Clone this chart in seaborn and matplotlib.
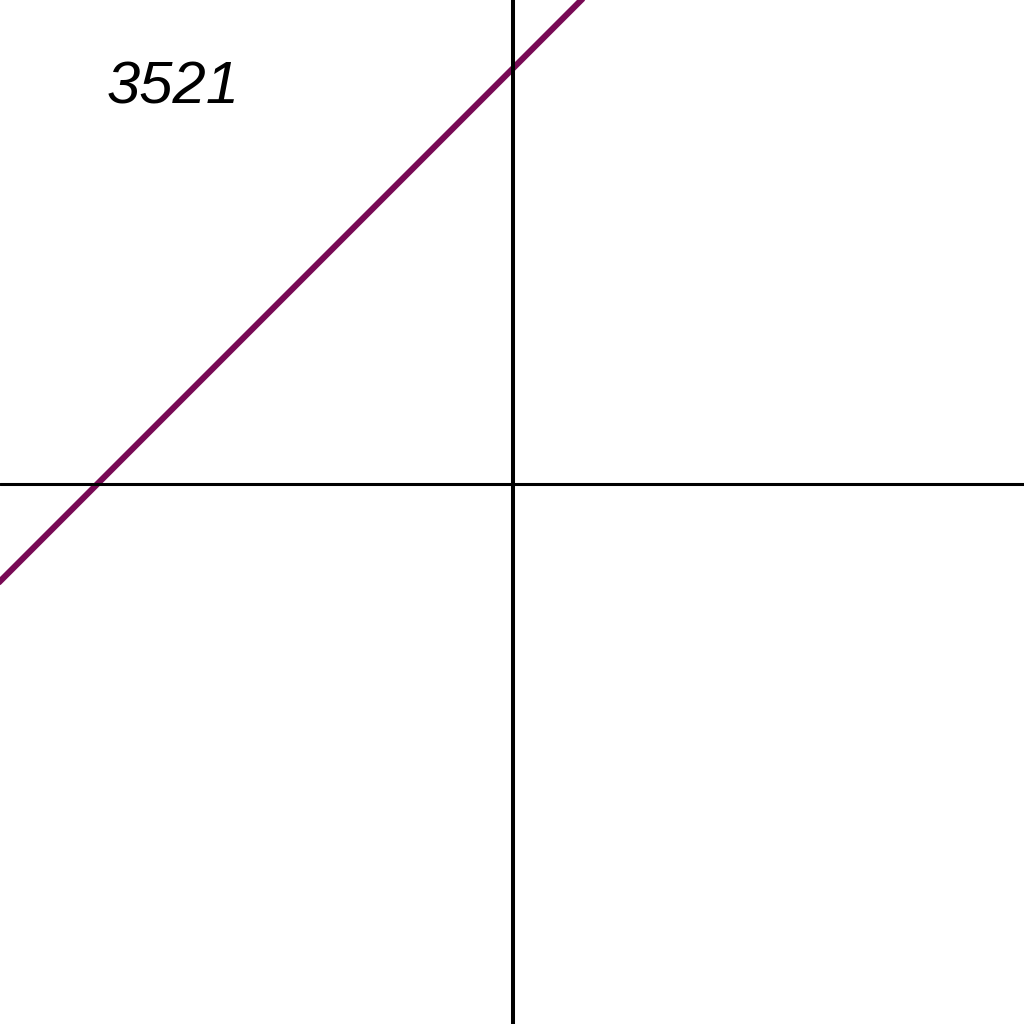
import matplotlib
matplotlib.use("Agg")
import numpy as np
import pandas as pd
import seaborn as sns
from matplotlib import pyplot as plt

# line y = x + 4.06, two end points
line_x = [-6.0, 6.0]
line_y = [-1.94, 10.06]
label_text = "3521"

sns.set_style("white")
plt.rcParams['font.family'] = ['Liberation Sans', 'DejaVu Sans']

fig = plt.figure(figsize=(10.24, 10.24), dpi=100, facecolor='white')
ax = fig.add_axes([0, 0, 1, 1])

df = pd.DataFrame({'x': line_x, 'y': line_y})
sns.lineplot(data=df, x='x', y='y', ax=ax, color='#780a55', linewidth=4.4,
             sort=False, zorder=2)

# coordinate axes on top of the line
ax.axhline(0, color='black', linewidth=2.2, zorder=3)
ax.axvline(0, color='black', linewidth=2.9, zorder=3)

ax.set_xlim(-5.01, 4.99)
ax.set_ylim(-5.273, 4.727)
ax.set_xlabel('')
ax.set_ylabel('')
ax.set_xticks([])
ax.set_yticks([])
for s in ax.spines.values():
    s.set_visible(False)

fig.text(107 / 1024, 1 - 103 / 1024, label_text, fontsize=43, style='italic',
         ha='left', va='baseline', color='black')

fig.savefig('out.png', dpi=100, facecolor='white')
